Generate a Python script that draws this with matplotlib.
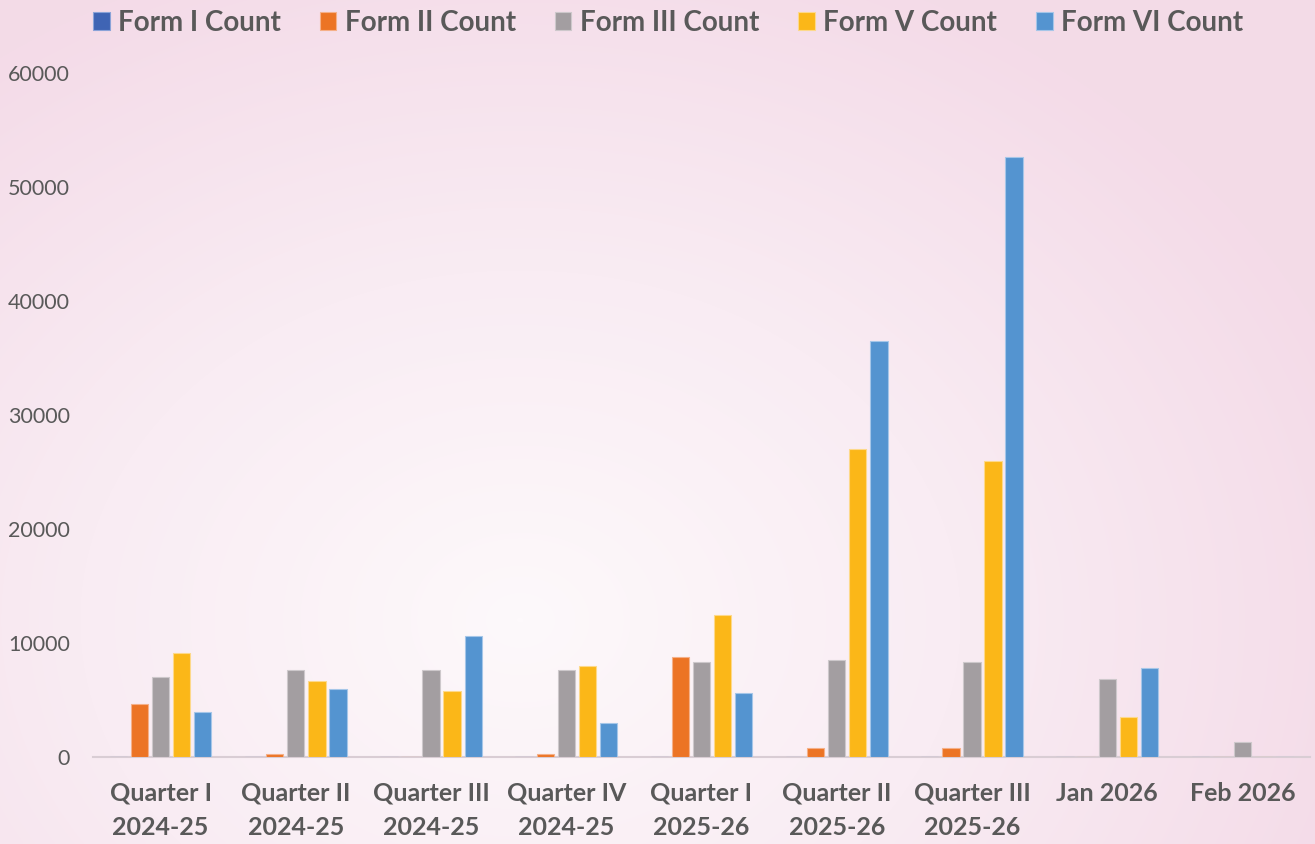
import numpy as np
import matplotlib
matplotlib.use("Agg")
import matplotlib.pyplot as plt
from matplotlib.colors import LinearSegmentedColormap

categories = ["Quarter I\n2024-25", "Quarter II\n2024-25", "Quarter III\n2024-25", "Quarter IV\n2024-25",
              "Quarter I\n2025-26", "Quarter II\n2025-26", "Quarter III\n2025-26", "Jan 2026", "Feb 2026"]
series_names = ["Form I Count", "Form II Count", "Form III Count", "Form V Count", "Form VI Count"]
form1 = [0, 0, 0, 0, 0, 0, 0, 0, 0]
form2 = [4650, 240, 0, 240, 8750, 820, 820, 0, 0]
form3 = [7060, 7630, 7630, 7630, 8360, 8540, 8360, 6870, 1320]
form5 = [9100, 6690, 5790, 7980, 12430, 27020, 25960, 3540, 0]
form6 = [3920, 5960, 10590, 2980, 5590, 36490, 52630, 7810, 0]
colors = ["#3F64B4", "#EC7424", "#A39EA1", "#FBB718", "#5494D0"]
edges = ["#8aa3d8", "#f5b088", "#cdc8cb", "#fdd98a", "#a5c6e8"]
yticks = [0, 10000, 20000, 30000, 40000, 50000, 60000]

W, H = 1315, 844
fig = plt.figure(figsize=(W / 100, H / 100), dpi=100)

# background radial gradient
bg = fig.add_axes([0, 0, 1, 1], zorder=-10)
yy, xx = np.mgrid[0:H, 0:W]
cx, cy = 520, 620
d = np.sqrt(((xx - cx) / 880.0) ** 2 + ((yy - cy) / 700.0) ** 2)
d = np.clip(d, 0, 1)
cmap = LinearSegmentedColormap.from_list("bg", ["#fdf9fb", "#f9ecf3", "#f4dbe8"])
bg.imshow(d, cmap=cmap, aspect="auto", extent=[0, 1, 0, 1], vmin=0, vmax=1)
bg.axis("off")

ax = fig.add_axes([93 / W, 1 - 757 / H, (1310 - 93) / W, (757 - 73) / H])
ax.patch.set_alpha(0)

data = [form1, form2, form3, form5, form6]
x = np.arange(len(categories))
slot = 0.156
bw = 0.128
for i, (vals, name) in enumerate(zip(data, series_names)):
    ax.bar(x + (i - 2) * slot, vals, width=bw, color=colors[i], edgecolor=edges[i],
           linewidth=0.8, label=name, zorder=3)

ax.set_xlim(-0.5, len(categories) - 0.5)
ax.set_ylim(0, 60000)
ax.set_yticks(yticks)
ax.set_yticklabels([str(v) for v in yticks], fontsize=15.5, color="#595959", family="Lato")
ax.set_xticks(x)
ax.set_xticklabels(categories, fontsize=18, fontweight="bold", color="#595959", family="Lato",
                   linespacing=1.6)
ax.tick_params(axis="both", length=0)
ax.tick_params(axis="y", pad=16.5)
ax.tick_params(axis="x", pad=18)
for s in ["top", "right", "left"]:
    ax.spines[s].set_visible(False)
ax.spines["bottom"].set_color("#d9cdd4")
ax.spines["bottom"].set_linewidth(1.5)

handles, labels = ax.get_legend_handles_labels()
leg = fig.legend(handles, labels, loc="upper center", bbox_to_anchor=(0.508, 1.018), ncol=5,
                 frameon=False, handlelength=0.6, handleheight=0.6, handletextpad=0.3,
                 columnspacing=1.4, prop={"family": "Lato", "weight": "bold", "size": 20})
for t in leg.get_texts():
    t.set_color("#595959")

fig.savefig("out.png", dpi=100)
